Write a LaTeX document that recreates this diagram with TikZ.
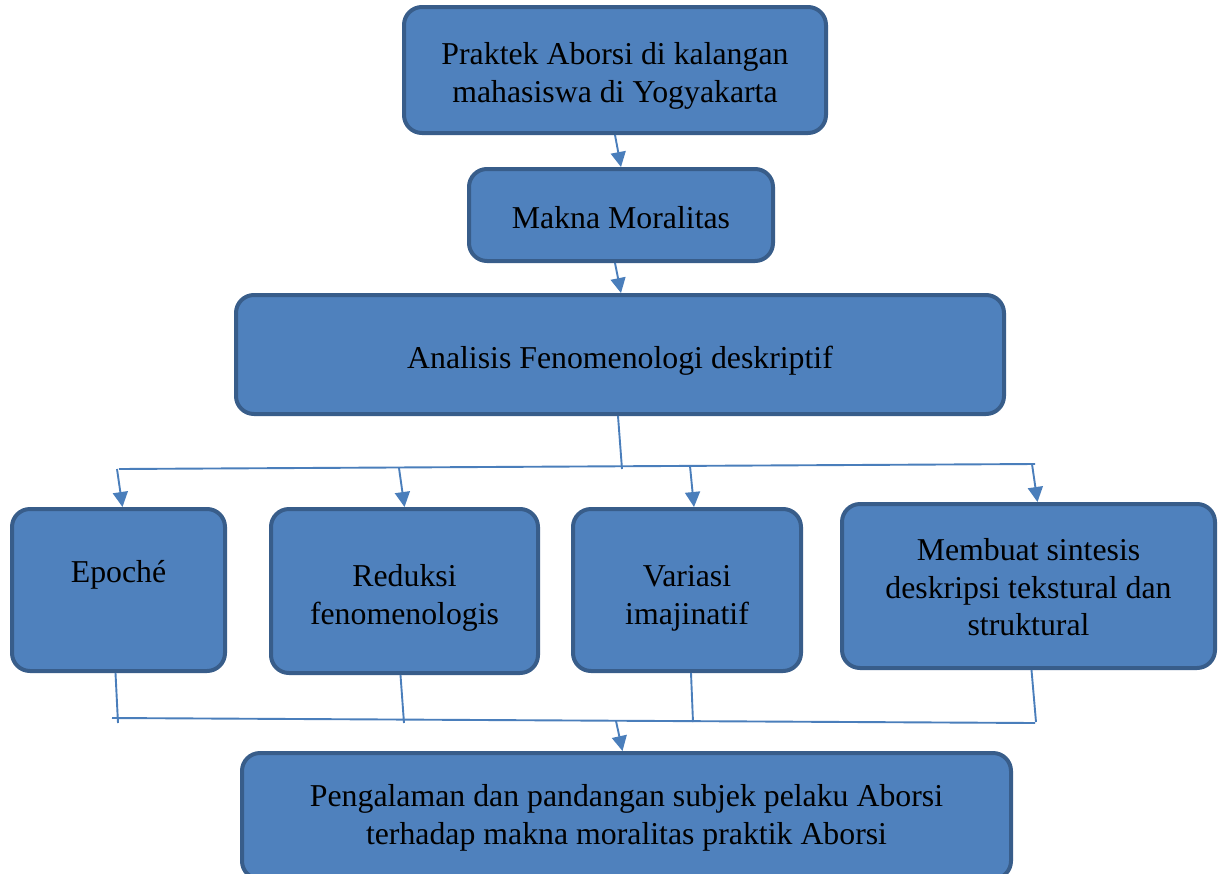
\documentclass[tikz,border=0pt]{standalone}
\usepackage{fontspec}
\setmainfont{Liberation Serif}
\usetikzlibrary{arrows.meta}
\definecolor{boxfill}{HTML}{4F81BD}
\definecolor{boxline}{HTML}{385D8A}
\definecolor{linec}{HTML}{4A7EBB}
\newcommand{\lift}[1]{\rule{0pt}{#1}}
\begin{document}
\begin{tikzpicture}[x=1pt,y=-1pt,
  flowbox/.style={draw=boxline, fill=boxfill, line width=4pt, rounded corners=18pt,
    inner sep=0pt, align=center, text=black,
    font=\fontsize{31.8}{37.5}\selectfont},
  conn/.style={draw=linec, line width=1.9pt},
  arr/.style={conn, -{Triangle[width=15pt,length=15pt]}}]
\useasboundingbox (0,0) rectangle (1218,873);
\clip (0,0) rectangle (1218,873);
\fill[white] (0,0) rectangle (1218,873);

\node[flowbox, minimum width=422pt, minimum height=126pt] (b1) at (615,70)
  {\lift{34pt}Praktek Aborsi di kalangan\\mahasiswa di Yogyakarta};
\node[flowbox, minimum width=304pt, minimum height=92pt] (b2) at (621,215)
  {\lift{28pt}Makna Moralitas};
\node[flowbox, minimum width=768pt, minimum height=119pt] (b3) at (620,354.5)
  {\lift{34pt}Analisis Fenomenologi deskriptif};
\node[flowbox, minimum width=213pt, minimum height=162pt] (e1) at (118.5,590)
  {Epoché\\~};
\node[flowbox, minimum width=267pt, minimum height=164pt] (e2) at (404.5,591)
  {\lift{36pt}Reduksi\\fenomenologis};
\node[flowbox, minimum width=228pt, minimum height=162pt] (e3) at (687,590)
  {\lift{38pt}Variasi\\imajinatif};
\node[flowbox, minimum width=373pt, minimum height=164pt] (e4) at (1028.5,586)
  {\lift{25pt}Membuat sintesis\\deskripsi tekstural dan\\struktural};
\node[flowbox, minimum width=769pt, minimum height=126pt] (b4) at (626.5,816)
  {\lift{26pt}Pengalaman dan pandangan subjek pelaku Aborsi\\terhadap makna moralitas praktik Aborsi};

% top arrows
\draw[arr] (b1.south) -- (b2.north);
\draw[arr] ([xshift=-6pt]b2.south) -- ([xshift=1pt]b3.north);

% split bus
\coordinate (sp) at (622,469);
\coordinate (tl) at (119,469);
\coordinate (tr) at (1035,464);
\coordinate (t1) at (117,469);
\coordinate (t2) at (399,468);
\coordinate (t3) at (690,466);
\coordinate (t4) at (1032,464);
\draw[conn] ([xshift=-2pt]b3.south) -- (sp);
\draw[conn] (tl) -- (tr);
\draw[arr] (t1) -- ([xshift=4pt]e1.north);
\draw[arr] (t2) -- (e2.north);
\draw[arr] (t3) -- ([xshift=7pt]e3.north);
\draw[arr] (t4) -- ([xshift=9pt]e4.north);

% merge bus
\coordinate (u1) at (118,723);
\coordinate (u2) at (404,723);
\coordinate (u3) at (693,722);
\coordinate (u4) at (1036,722);
\coordinate (bl) at (112,718);
\coordinate (br) at (1035,723);
\coordinate (bm) at (616,721);
\draw[conn] ([xshift=-3pt]e1.south) -- (u1);
\draw[conn] ([xshift=-4pt]e2.south) -- (u2);
\draw[conn] ([xshift=4pt]e3.south) -- (u3);
\draw[conn] ([xshift=3pt]e4.south) -- (u4);
\draw[conn] (bl) -- (br);
\draw[arr] (bm) -- ([xshift=-4pt]b4.north);
\end{tikzpicture}
\end{document}
